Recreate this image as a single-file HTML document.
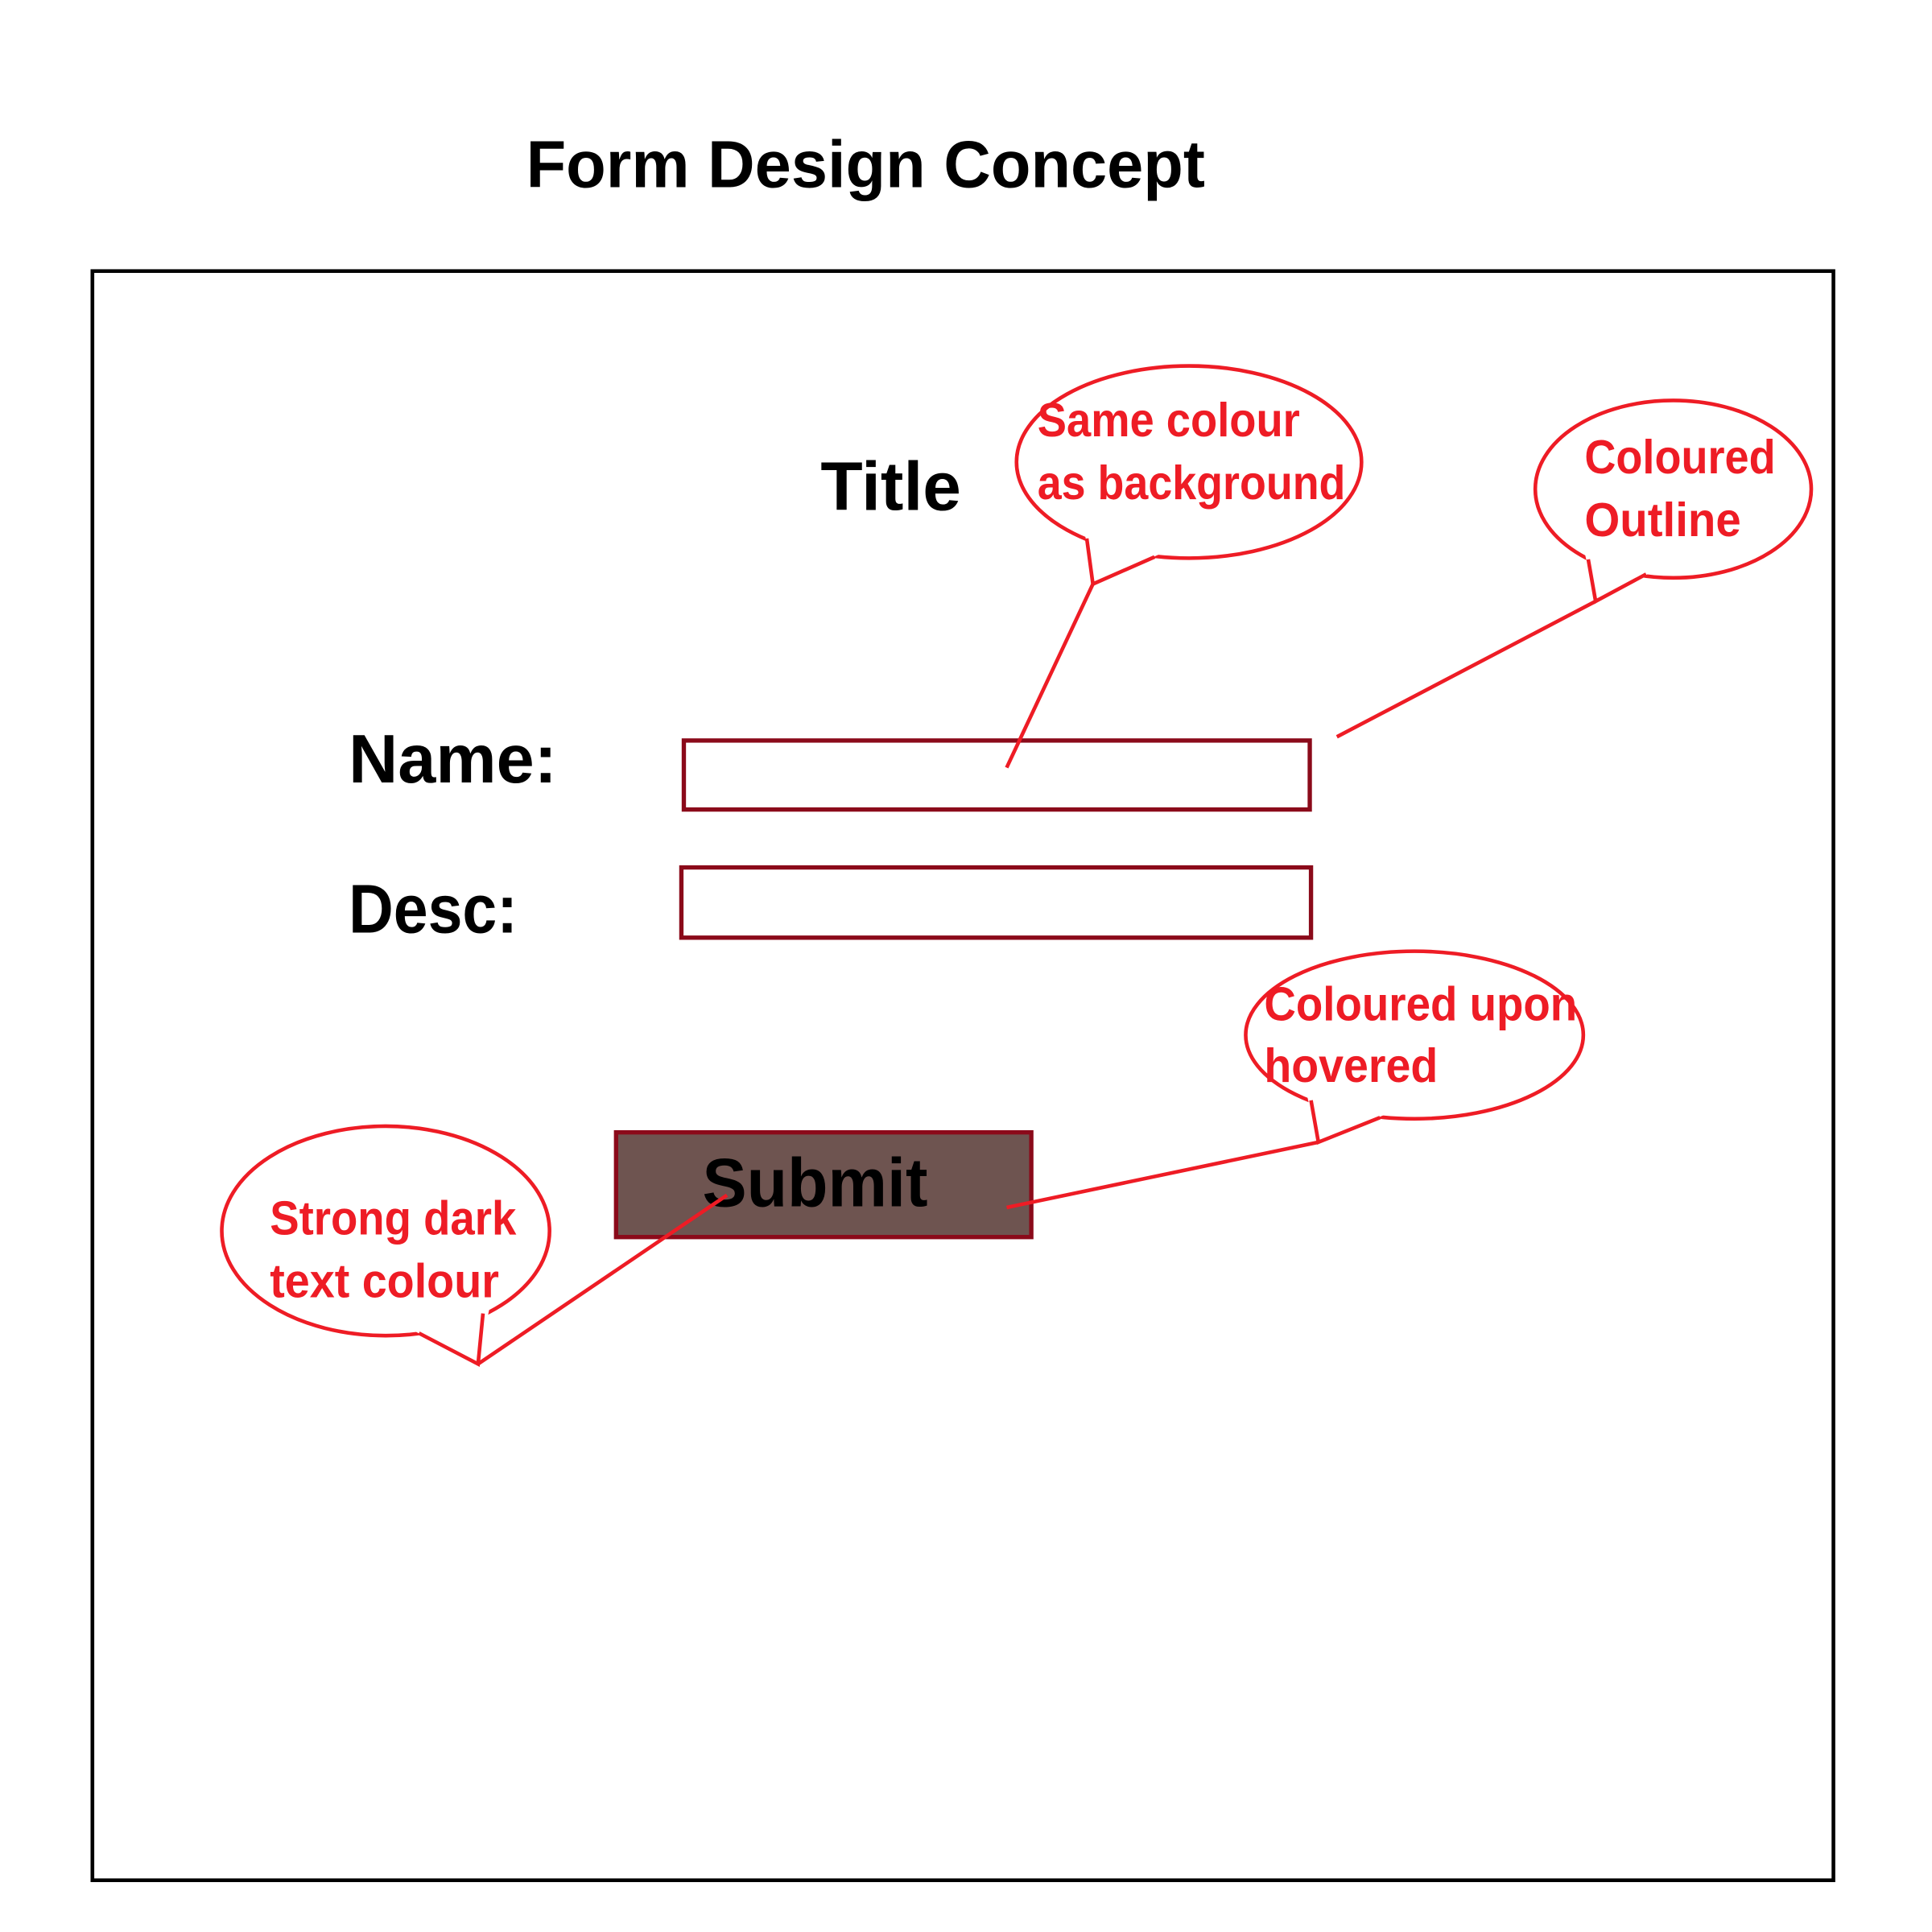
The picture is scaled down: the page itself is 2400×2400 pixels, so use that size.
<!DOCTYPE html>
<html><head><style>html,body{margin:0;padding:0;background:#fff}svg{display:block}</style></head>
<body>
<svg width="2400" height="2400" viewBox="0 0 1568 1568" xmlns="http://www.w3.org/2000/svg" font-family="'Liberation Sans', sans-serif" font-weight="bold">
<rect width="1568" height="1568" fill="#fff"/>
<text x="427" y="152" font-size="54" textLength="551" lengthAdjust="spacingAndGlyphs">Form Design Concept</text>
<rect x="75" y="220" width="1413" height="1306" fill="none" stroke="#000" stroke-width="3"/>
<text x="666" y="414" font-size="56" textLength="114" lengthAdjust="spacingAndGlyphs">Title</text>
<text x="283" y="635" font-size="56" textLength="169" lengthAdjust="spacingAndGlyphs">Name:</text>
<text x="283" y="757" font-size="56" textLength="137" lengthAdjust="spacingAndGlyphs">Desc:</text>
<rect x="555" y="601" width="508" height="56" fill="none" stroke="#8b0a1a" stroke-width="3.5"/>
<rect x="553" y="704" width="511" height="57" fill="none" stroke="#8b0a1a" stroke-width="3.5"/>
<rect x="500" y="919" width="337" height="85" fill="#6e5450" stroke="#8b0a1a" stroke-width="3.5"/>
<text x="570" y="979" font-size="56" textLength="183" lengthAdjust="spacingAndGlyphs">Submit</text>
<g stroke="#ee1c25" stroke-width="3" fill="none">
<ellipse cx="965" cy="375" rx="140" ry="78"/>
<polygon points="880,430 887,474 945,448" fill="#fff" stroke="none"/>
<polyline points="882,437 887,474 937,452"/>
<line x1="887" y1="474" x2="817" y2="623"/>
<ellipse cx="1358" cy="397" rx="112" ry="72"/>
<polygon points="1286,448 1295,488 1345,462" fill="#fff" stroke="none"/>
<polyline points="1289,454 1295,488 1336,466"/>
<line x1="1295" y1="488" x2="1085" y2="598"/>
<ellipse cx="1148" cy="840" rx="137" ry="68"/>
<polygon points="1060,886 1070,927 1128,903" fill="#fff" stroke="none"/>
<polyline points="1064,893 1070,927 1120,907"/>
<line x1="1070" y1="927" x2="817" y2="980"/>
<ellipse cx="313" cy="999" rx="133" ry="85"/>
<polygon points="398,1058 388,1107 332,1078" fill="#fff" stroke="none"/>
<polyline points="392,1066 388,1107 340,1082"/>
<line x1="388" y1="1107" x2="590" y2="970"/>
</g>
<g fill="#ee1c25" font-size="39">
<text x="842" y="354" textLength="213" lengthAdjust="spacingAndGlyphs">Same colour</text>
<text x="842" y="405" textLength="250" lengthAdjust="spacingAndGlyphs">as background</text>
<text x="1286" y="384" textLength="155" lengthAdjust="spacingAndGlyphs">Coloured</text>
<text x="1286" y="435" textLength="127" lengthAdjust="spacingAndGlyphs">Outline</text>
<text x="1026" y="828" textLength="254" lengthAdjust="spacingAndGlyphs">Coloured upon</text>
<text x="1026" y="878" textLength="141" lengthAdjust="spacingAndGlyphs">hovered</text>
<text x="219" y="1002" textLength="200" lengthAdjust="spacingAndGlyphs">Strong dark</text>
<text x="219" y="1053" textLength="186" lengthAdjust="spacingAndGlyphs">text colour</text>
</g>
</svg>
</body></html>
